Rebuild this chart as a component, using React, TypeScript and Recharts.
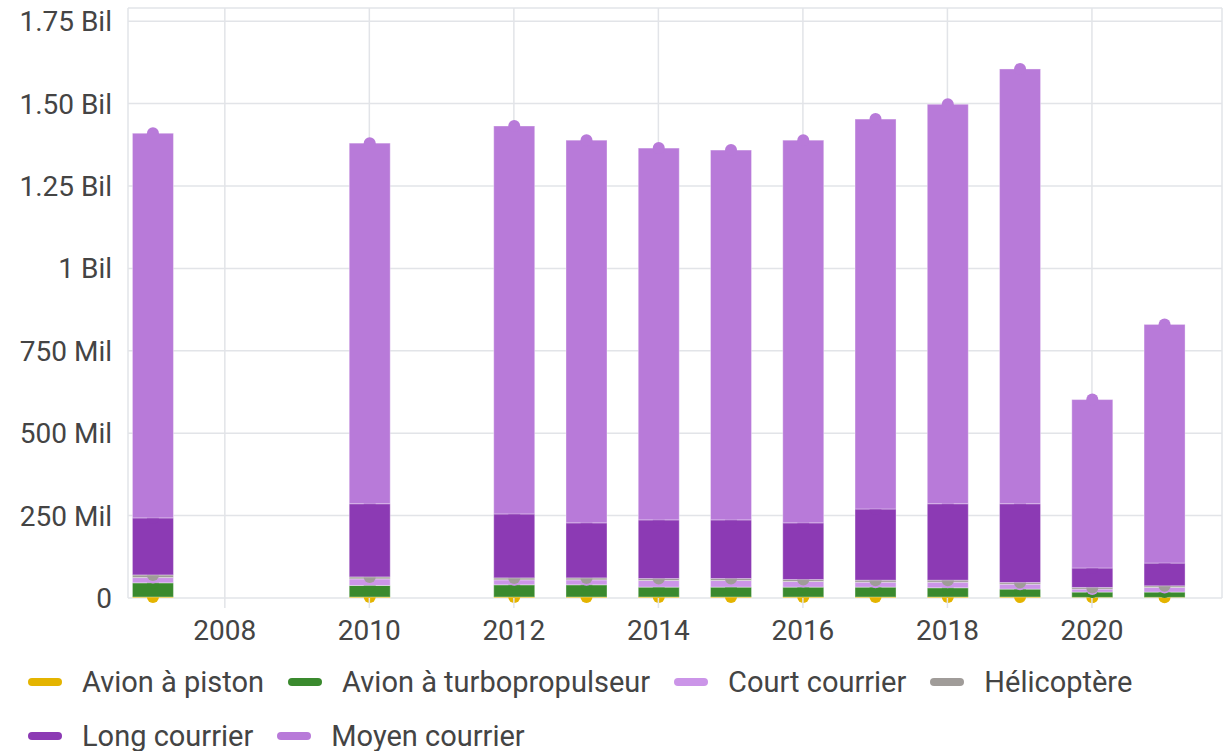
import React from 'react';
import { BarChart, Bar, XAxis, YAxis, CartesianGrid } from 'recharts';

const years = [2007, 2010, 2012, 2013, 2014, 2015, 2016, 2017, 2018, 2019, 2020, 2021];
const piston = [3, 3, 3, 3, 3, 3, 3, 3, 3, 3, 2, 2];
const turbo = [43, 35, 37, 37, 30, 30, 30, 30, 28, 24, 16, 16];
const court = [16, 20, 15, 15, 20, 20, 17, 15, 17, 15, 9, 14];
const helico = [8, 6, 6, 6, 6, 6, 6, 6, 6, 5, 5, 5];
const longC = [173, 222, 194, 167, 178, 178, 172, 216, 232, 239, 59, 69];
const moyen = [1167, 1094, 1177, 1161, 1128, 1122, 1161, 1183, 1212, 1319, 511, 724];

const xTicks = [2008, 2010, 2012, 2014, 2016, 2018, 2020];
const yTicks = [0, 250e6, 500e6, 750e6, 1000e6, 1250e6, 1500e6, 1750e6];
const yTickLabels = ['0', '250 Mil', '500 Mil', '750 Mil', '1 Bil', '1.25 Bil', '1.50 Bil', '1.75 Bil'];

const series = [
  { key: 'piston', name: 'Avion à piston', color: '#E4B400', values: piston },
  { key: 'turbo', name: 'Avion à turbopropulseur', color: '#3A8A2E', values: turbo },
  { key: 'court', name: 'Court courrier', color: '#CB95E8', values: court },
  { key: 'helico', name: 'Hélicoptère', color: '#A09C99', values: helico },
  { key: 'long', name: 'Long courrier', color: '#8C3AB4', values: longC },
  { key: 'moyen', name: 'Moyen courrier', color: '#B87AD9', values: moyen },
];

const data = years.map((year, i) => {
  const row: Record<string, number> = { year };
  series.forEach((s) => {
    row[s.key] = s.values[i] * 1e6;
  });
  return row;
});

const FONT = 'Roboto, sans-serif';
const GRID = '#e2e4e8';

const makeShape = (color: string) => (props: any) => {
  const { x, y, width, height } = props;
  if (x == null || y == null) return <g />;
  return (
    <g>
      <rect x={x} y={y} width={width} height={Math.max(height, 0)} fill={color} stroke="#ffffff" strokeOpacity={0.35} strokeWidth={1} />
      <circle cx={x + width / 2} cy={y} r={6} fill={color} />
    </g>
  );
};

const yFmt = (v: number) => {
  const idx = yTicks.indexOf(v);
  return idx >= 0 ? yTickLabels[idx] : String(v);
};

export default function App() {
  return (
    <div style={{ position: 'absolute', left: 0, top: 0, width: 1223, height: 751, background: '#fff', fontFamily: FONT, overflow: 'hidden' }}>
      <BarChart
        width={1223}
        height={660}
        data={data}
        margin={{ top: 8, right: 1, bottom: 0, left: 0 }}
        barGap={0}
      >
        <CartesianGrid stroke={GRID} strokeWidth={1.5} />
        <XAxis
          dataKey="year"
          type="number"
          domain={[2006.66, 2021.8]}
          ticks={xTicks}
          height={62}
          axisLine={false}
          tickSize={10}
          tickLine={{ stroke: GRID, strokeWidth: 1.5 }}
          tickMargin={12}
          tick={{ fill: '#444', fontSize: 28, fontFamily: FONT }}
        />
        <YAxis
          width={128}
          domain={[0, 1.79e9]}
          ticks={yTicks}
          tickFormatter={yFmt}
          axisLine={false}
          tickLine={false}
          tickSize={0}
          tickMargin={16}
          tick={{ fill: '#444', fontSize: 28, fontFamily: FONT }}
          interval={0}
        />
        {series.map((s) => (
          <Bar
            key={s.key}
            dataKey={s.key}
            name={s.name}
            stackId="a"
            fill={s.color}
            barSize={41}
            isAnimationActive={false}
            shape={makeShape(s.color)}
          />
        ))}
      </BarChart>
      <div
        style={{
          position: 'absolute',
          left: 28,
          top: 655,
          width: 1180,
          display: 'flex',
          flexWrap: 'wrap',
          fontFamily: FONT,
          fontSize: 29,
          color: '#444',
        }}
      >
        {series.map((s) => (
          <div key={s.key} style={{ display: 'flex', alignItems: 'center', height: 54, marginRight: 24 }}>
            <div style={{ width: 34, height: 8, borderRadius: 4, background: s.color, marginRight: 20 }} />
            <span style={{ whiteSpace: 'nowrap', lineHeight: '29px' }}>{s.name}</span>
          </div>
        ))}
      </div>
    </div>
  );
}
